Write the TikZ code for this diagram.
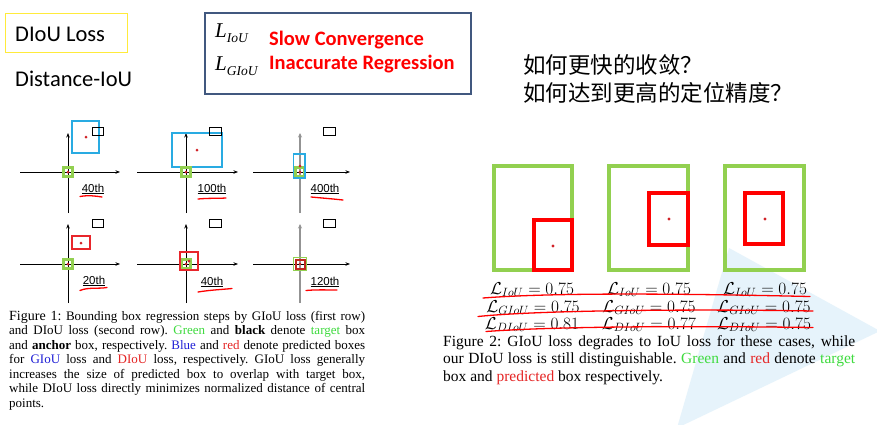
\documentclass[tikz,border=0pt]{standalone}
\usepackage{fontspec}
\setmainfont{Liberation Serif}
\newfontfamily\carl{Carlito}
\newfontfamily\arl{Liberation Sans}
\newfontfamily\cjk{Noto Sans CJK SC}
\usetikzlibrary{arrows.meta}
\definecolor{grn}{HTML}{92D050}
\definecolor{skyb}{HTML}{29ABE2}
\definecolor{redb}{HTML}{E8262B}
\definecolor{dred}{HTML}{C0281E}
\definecolor{frameb}{HTML}{41587F}
\definecolor{tri}{HTML}{E6F3FB}
\definecolor{capg}{HTML}{3EDB3E}
\definecolor{capb}{HTML}{1F1FD6}
\definecolor{capr}{HTML}{E52424}
\definecolor{yel}{HTML}{FFEB3B}
\hyphenpenalty=10000
\frenchspacing
\begin{document}
\begin{tikzpicture}[x=1pt,y=-1pt,
  ax/.style={line width=0.7pt, -{Stealth[length=4.5pt,width=3.5pt]}},
  gax/.style={line width=1.8pt, draw=gray!85, -{Stealth[length=4.5pt,width=4pt]}},
  tgt/.style={draw=grn, line width=2.6pt},
  anc/.style={draw=black, line width=1.4pt},
  gpred/.style={draw=skyb, line width=1.2pt},
  dpred/.style={draw=redb, line width=1.3pt},
  cdot/.style={fill=redb!90!black},
  lbl/.style={font=\arl\fontsize{11.5}{12}\selectfont, inner sep=0},
  scrib/.style={draw=red, line width=1.3pt, line cap=round},
  bigg/.style={draw=grn, line width=3.6pt},
  bigr/.style={draw=red, line width=3.6pt},
  mth/.style={font=\fontsize{16.5}{18}\selectfont, inner sep=0, anchor=base},
]
\useasboundingbox (0,0) rectangle (877,424);
\fill[white] (0,0) rectangle (877,424);
% light triangle
\fill[tri] (729,248) -- (880,331) -- (677,428) -- cycle;

% ---------- top left ----------
\draw[yel, line width=1pt] (5,13) rectangle (127,52);
\node[anchor=west, inner sep=0, font=\carl\fontsize{22.5}{26}\selectfont] (title) at (15,34) {DIoU Loss};
\node[anchor=west, inner sep=0, font=\carl\fontsize{22.5}{26}\selectfont] (sub) at (15,79) {Distance-IoU};

% ---------- top box ----------
\draw[frameb, line width=1.6pt] (205,13) rectangle (471,94);
\node[anchor=west, inner sep=0, font=\fontsize{21}{24}\selectfont\itshape] (liou) at (215,33) {L\raisebox{-5pt}{\fontsize{13.5}{14}\selectfont IoU}};
\node[anchor=west, inner sep=0, font=\fontsize{21}{24}\selectfont\itshape] (lgiou) at (215,66) {L\raisebox{-5pt}{\fontsize{13.5}{14}\selectfont GIoU}};
\node[anchor=west, inner sep=0, text=red, font=\carl\bfseries\fontsize{20.5}{24}\selectfont] (slow) at (269,40) {Slow Convergence};
\node[anchor=west, inner sep=0, text=red, font=\carl\bfseries\fontsize{20.5}{24}\selectfont] (inacc) at (269,64) {Inaccurate Regression};

% ---------- chinese ----------
\node[anchor=west, inner sep=0, font=\cjk\fontsize{22.5}{24}\selectfont] (q1) at (523,65) {如何更快的收敛？};
\node[anchor=west, inner sep=0, font=\cjk\fontsize{22.5}{24}\selectfont] (q2) at (523,93) {如何达到更高的定位精度？};

% ---------- Figure 1 axes ----------
\foreach \cx/\xl/\xr in {68/20/120, 186/137/238}{
  \draw[ax] (\xl,172) -- (\xr,172);
  \draw[ax] (\cx,213) -- (\cx,133);
  \draw[ax] (\xl,264) -- (\xr,264);
  \draw[ax] (\cx,303) -- (\cx,224);
}
\draw[ax] (253,172) -- (350,172);
\draw[gax] (300,213) -- (300,133);
\draw[ax] (253,264) -- (350,264);
\draw[gax] (300,303) -- (300,224);

% row 1 (GIoU)
\draw[gpred] (72,121) rectangle (99,153);
\fill[cdot] (86,137) circle (1.5);
\draw[anc] (92.7,127.7) rectangle (103.3,135.3);
\draw[tgt] (63.5,167.5) rectangle (72.5,176.5);
\fill[cdot] (68,172) circle (1.5);

\draw[gpred] (172,133) rectangle (222,167);
\fill[cdot] (197,150) circle (1.5);
\draw[anc] (209.7,127.7) rectangle (221.3,135.3);
\draw[tgt] (181.5,167.5) rectangle (190.5,176.5);
\fill[cdot] (186,172) circle (1.5);

\draw[tgt] (295.5,167.5) rectangle (304.5,176.5);
\draw[gpred] (293.5,154) rectangle (305,178);
\fill[cdot] (300,166) circle (1.5);
\fill[cdot] (300,172) circle (1.5);
\draw[anc] (323.7,127.7) rectangle (335.3,135.3);

% row 2 (DIoU)
\draw[dpred] (72,236) rectangle (90,249);
\fill[cdot] (81,243) circle (1.5);
\draw[anc] (92.7,219.7) rectangle (103.3,227.3);
\draw[tgt] (63.5,259.5) rectangle (72.5,268.5);
\fill[cdot] (68,264) circle (1.5);

\draw[tgt] (181.5,259.5) rectangle (190.5,268.5);
\draw[dpred] (180,252) rectangle (198,270);
\fill[cdot] (189,261) circle (1.5);
\fill[cdot] (186,264) circle (1.3);
\draw[anc] (209.7,219.7) rectangle (221.3,227.3);

\draw[grn, line width=1.2pt] (293.5,257.5) rectangle (306.5,270.5);
\draw[dred, line width=2pt] (295.5,259.5) rectangle (304.5,268.5);
\fill[cdot] (300,264) circle (1.3);
\draw[anc] (323.7,219.7) rectangle (335.3,227.3);

% labels
\node[lbl] (l1) at (93,189) {\underline{40th}};
\node[lbl] (l2) at (212,189) {\underline{100th}};
\node[lbl] (l3) at (325,189) {\underline{400th}};
\node[lbl] (l4) at (94,281) {\underline{20th}};
\node[lbl] (l5) at (212,282) {\underline{40th}};
\node[lbl] (l6) at (325,282) {\underline{120th}};
\draw[scrib] (80,196.5) .. controls (88,195) and (96,196) .. (102,197);
\draw[scrib] (198,199) .. controls (208,198) and (218,198.5) .. (226,198);
\draw[scrib] (311,197) .. controls (322,198) and (334,199) .. (343,200);
\draw[scrib] (80,290.5) .. controls (88,287) and (98,289) .. (107,287.5);
\draw[scrib] (198,292) .. controls (210,290) and (222,289.5) .. (232,288.5);
\draw[scrib] (306,290.5) .. controls (316,289.5) and (328,290) .. (337,290);

% caption 1
\node[anchor=north west, inner sep=0, text width=356pt, align=justify,
      font=\fontsize{13}{14.5}\selectfont] (cap1) at (9,311)
{{\fontsize{14}{14.5}\selectfont Figure 1:} Bounding box regression steps by GIoU loss (first row)\linebreak
and DIoU loss (second row). \textcolor{capg}{Green} and \textbf{black} denote \textcolor{capg}{target} box\linebreak
and \textbf{anchor} box, respectively. \textcolor{capb}{Blue} and \textcolor{capr}{red} denote predicted boxes\linebreak
for \textcolor{capb}{GIoU} loss and \textcolor{capr}{DIoU} loss, respectively. GIoU loss generally\linebreak
increases the size of predicted box to overlap with target box,\linebreak
while DIoU loss directly minimizes normalized distance of central\linebreak
points.};

% ---------- Figure 2 boxes ----------
\draw[bigg] (494,166) rectangle (572,270);
\draw[bigr] (534,220) rectangle (572,270);
\fill[cdot] (553,246) circle (1.6);

\draw[bigg] (609,166) rectangle (688,270);
\draw[bigr] (649,193) rectangle (688,245);
\fill[cdot] (669,219) circle (1.6);

\draw[bigg] (725,166) rectangle (804,270);
\draw[bigr] (745,193) rectangle (783,244);
\fill[cdot] (765,219) circle (1.6);

% formulas
\node[mth] (f11) at (532,294) {$\mathcal{L}_{IoU} = 0.75$};
\node[mth] (f12) at (649,294) {$\mathcal{L}_{IoU} = 0.75$};
\node[mth] (f13) at (765,294) {$\mathcal{L}_{IoU} = 0.75$};
\node[mth] (f21) at (533,312) {$\mathcal{L}_{GIoU} = 0.75$};
\node[mth] (f22) at (649,312) {$\mathcal{L}_{GIoU} = 0.75$};
\node[mth] (f23) at (764,312) {$\mathcal{L}_{GIoU} = 0.75$};
\node[mth] (f31) at (532,329) {$\mathcal{L}_{DIoU} = 0.81$};
\node[mth] (f32) at (649,329) {$\mathcal{L}_{DIoU} = 0.77$};
\node[mth] (f33) at (764,329) {$\mathcal{L}_{DIoU} = 0.75$};
\draw[scrib] (483,298) .. controls (560,292) and (700,294) .. (810,296.5);
\draw[scrib] (478,316.5) .. controls (540,310) and (700,309) .. (813,311);
\draw[scrib] (486,331.5) .. controls (560,326) and (700,326) .. (813,327.5);

% caption 2
\node[anchor=north west, inner sep=0, text width=412pt, align=justify,
      font=\fontsize{15.5}{17.5}\selectfont] (cap2) at (443,335)
{Figure 2: GIoU loss degrades to IoU loss for these cases, while\linebreak
our DIoU loss is still distinguishable. \textcolor{capg}{Green} and \textcolor{capr}{red} denote \textcolor{capg}{target}\linebreak
box and \textcolor{capr}{predicted} box respectively.};
\end{tikzpicture}
\end{document}
